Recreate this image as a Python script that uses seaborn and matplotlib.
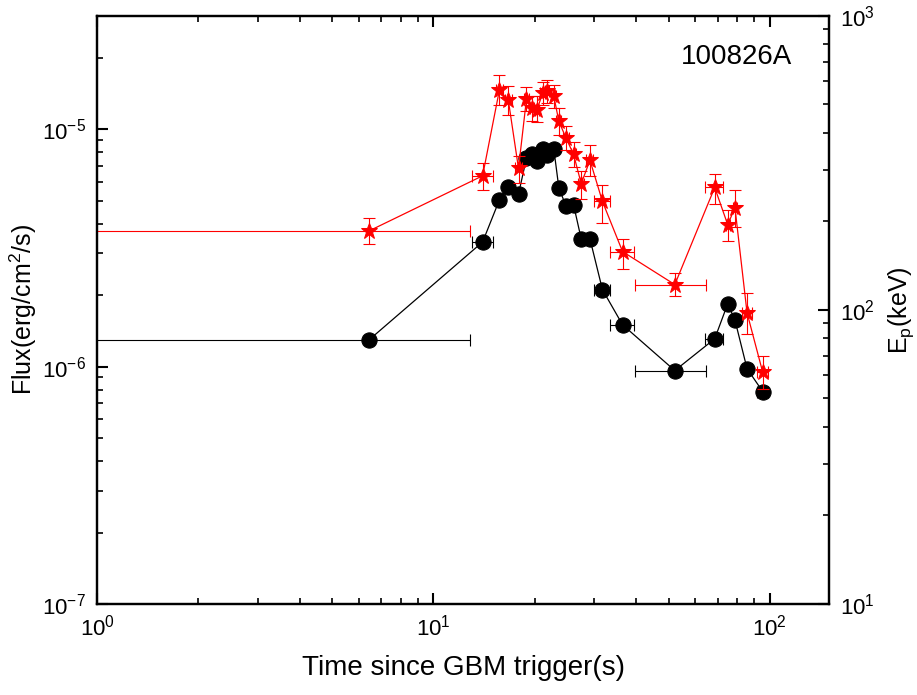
import matplotlib
matplotlib.use("Agg")
import matplotlib.pyplot as plt
import numpy as np
import seaborn as sns

# time bins (s) and half widths
time = [6.45, 14.0, 15.7, 16.7, 17.9, 18.9, 19.6, 20.3, 21.1, 21.8, 22.8, 23.6,
        24.8, 26.1, 27.5, 29.2, 31.8, 36.5, 52.2, 68.6, 75.0, 78.8, 85.6, 95.3]
time_err = [6.4, 1.0, 0.4, 0.4, 0.4, 0.3, 0.3, 0.3, 0.3, 0.3, 0.4, 0.4,
            0.5, 0.5, 0.6, 0.7, 1.7, 2.9, 12.5, 4.2, 1.0, 1.0, 3.0, 3.5]

# flux in erg/cm2/s
flux = [1.30e-6, 3.35e-6, 5.03e-6, 5.70e-6, 5.33e-6, 7.55e-6, 7.85e-6, 7.34e-6,
        8.24e-6, 7.78e-6, 8.24e-6, 5.65e-6, 4.74e-6, 4.80e-6, 3.45e-6, 3.45e-6,
        2.11e-6, 1.50e-6, 9.62e-7, 1.31e-6, 1.84e-6, 1.57e-6, 9.8e-7, 7.85e-7]

# peak energy in keV
ep = [186, 286, 559, 516, 303, 521, 485, 478, 546, 555, 533, 438,
      384, 338, 269, 323, 234, 158, 122, 261, 195, 223, 97.8, 61.4]
ep_lo = [18, 31, 62, 57, 32, 47, 45, 43, 49, 50, 48, 45,
         35, 32, 30, 37, 36, 20, 10, 31, 24, 31, 15, 7.7]
ep_hi = [19, 31, 71, 61, 30, 52, 50, 55, 50, 50, 50, 47,
         38, 35, 29, 40, 33, 17, 12, 30, 23, 32, 16, 8.3]

sns.set_style("ticks")
plt.rcParams.update({
    'font.family': ['Liberation Sans', 'DejaVu Sans'],
    'mathtext.fontset': 'custom',
    'mathtext.rm': 'Liberation Sans',
    'mathtext.it': 'Liberation Sans:italic',
    'mathtext.bf': 'Liberation Sans:bold',
    'axes.edgecolor': 'black',
    'axes.linewidth': 1.6,
    'text.color': 'black',
    'axes.labelcolor': 'black',
    'xtick.color': 'black',
    'ytick.color': 'black',
})

fig = plt.figure(figsize=(9.17, 6.95), dpi=100)
ax = fig.add_axes([0.106, 0.131, 0.798, 0.846])

ax.errorbar(time, flux, xerr=time_err, fmt='none', ecolor='black',
            elinewidth=0.8, capsize=4, capthick=0.8)
sns.lineplot(x=time, y=flux, ax=ax, color='black', marker='o', markersize=11,
             markeredgecolor='black', linewidth=0.9, sort=False, estimator=None)
ax.set_xscale('log')
ax.set_yscale('log')
ax.set_xlim(1, 150)
ax.set_ylim(1e-7, 3e-5)
ax.set_xlabel('Time since GBM trigger(s)', fontsize=20, labelpad=10)
ax.set_ylabel('Flux(erg/cm$^2$/s)', fontsize=18, labelpad=2)
ax.text(0.95, 0.93, '100826A', transform=ax.transAxes, fontsize=20,
        ha='right', va='center')

ax2 = ax.twinx()
ax2.errorbar(time, ep, xerr=time_err, yerr=[ep_lo, ep_hi], fmt='none',
             ecolor='red', elinewidth=0.8, capsize=4, capthick=0.8)
sns.lineplot(x=time, y=ep, ax=ax2, color='red', marker='*', markersize=12,
             markeredgecolor='red', linewidth=0.9, sort=False, estimator=None)
ax2.set_yscale('log')
ax2.set_ylim(10, 1000)
ax2.set_ylabel('E$_\\mathrm{p}$(keV)', fontsize=18, labelpad=8)

for a in (ax, ax2):
    a.tick_params(which='major', direction='in', length=8, width=1.5,
                  labelsize=16, pad=8)
    a.tick_params(which='minor', direction='in', length=4, width=1.2)
ax.tick_params(axis='x', which='both', top=True, bottom=True)
ax.tick_params(axis='y', which='both', left=True, right=False)
ax2.tick_params(axis='y', which='both', left=False, right=True)

plt.savefig("out.png", dpi=100)
